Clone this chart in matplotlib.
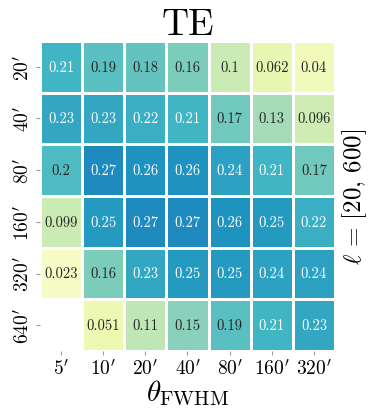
import numpy as np
import matplotlib
matplotlib.use("Agg")
import matplotlib.pyplot as plt
import seaborn as sns

plt.rcParams['font.family'] = 'serif'
plt.rcParams['font.serif'] = ['cmr10', 'DejaVu Serif']
plt.rcParams['mathtext.fontset'] = 'cm'
plt.rcParams['axes.unicode_minus'] = False

# beam widths (x) and pixel/smoothing scales (y), in arcmin
theta_fwhm = ["5", "10", "20", "40", "80", "160", "320"]
scales = ["20", "40", "80", "160", "320", "640"]

row_20 = [0.21, 0.19, 0.18, 0.16, 0.1, 0.062, 0.04]
row_40 = [0.23, 0.23, 0.22, 0.21, 0.17, 0.13, 0.096]
row_80 = [0.2, 0.27, 0.26, 0.26, 0.24, 0.21, 0.17]
row_160 = [0.099, 0.25, 0.27, 0.27, 0.26, 0.25, 0.22]
row_320 = [0.023, 0.16, 0.23, 0.25, 0.25, 0.24, 0.24]
row_640 = [np.nan, 0.051, 0.11, 0.15, 0.19, 0.21, 0.23]

vals = np.array([row_20, row_40, row_80, row_160, row_320, row_640])

fig = plt.figure(figsize=(3.69, 4.10), dpi=100)
ax = fig.add_axes([0.108, 0.141, 0.8, 0.757])

sns.heatmap(vals, ax=ax, cmap='YlGnBu', vmin=0, vmax=0.42,
            annot=True, fmt='.2g', annot_kws={'fontsize': 10.5},
            linewidths=1, linecolor='white', cbar=False)

ax.set_xticklabels([r"$%s'$" % t for t in theta_fwhm], fontsize=14)
ax.set_yticklabels([r"$%s'$" % s for s in scales], fontsize=14, rotation=90, va='center')
ax.tick_params(length=3, color='#999999', pad=2)

ax.set_title("TE", fontsize=27, pad=4)
ax.set_xlabel(r"$\theta_{\rm FWHM}$", fontsize=21, labelpad=0)
ax.yaxis.set_label_position('right')
ax.set_ylabel(r"$\ell\,=\,[20,\,600]$", fontsize=18, rotation=90, labelpad=4)

fig.savefig("out.png", dpi=100)
